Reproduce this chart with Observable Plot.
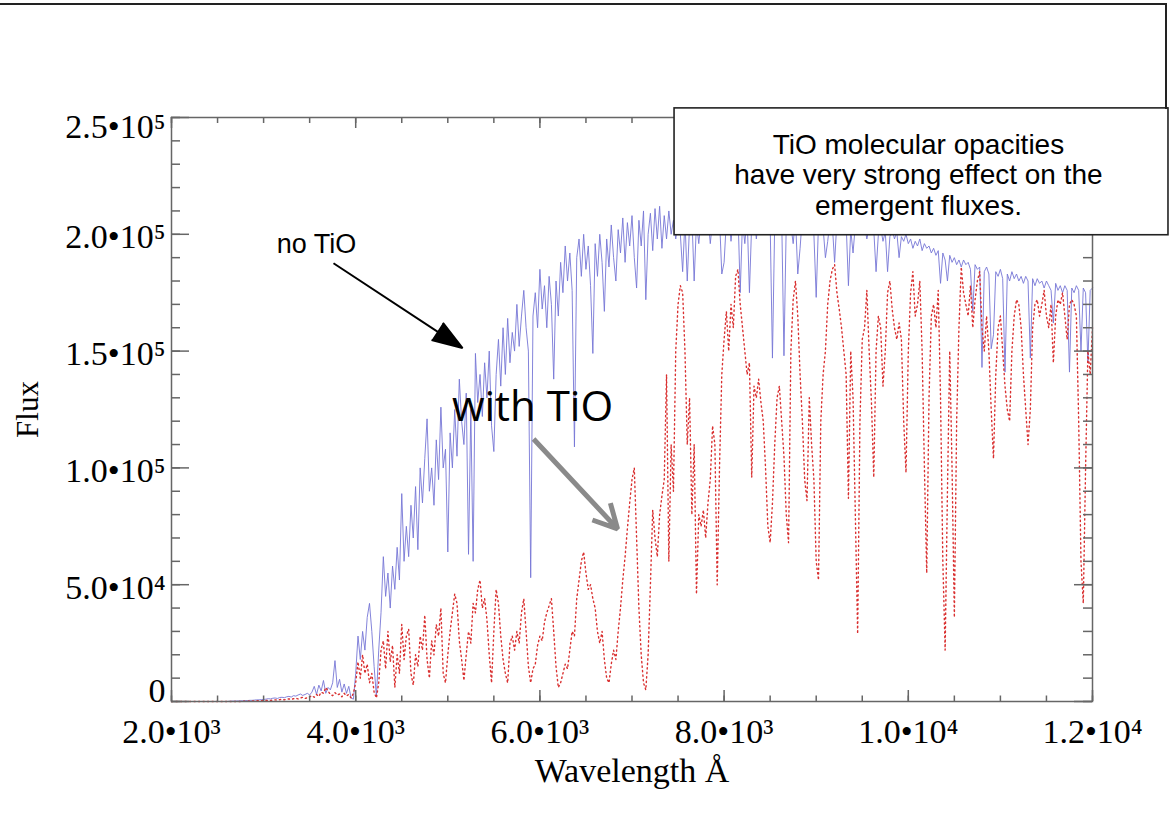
<!DOCTYPE html>
<html><head><meta charset="utf-8">
<script src="https://cdn.jsdelivr.net/npm/d3@7"></script>
<script src="https://cdn.jsdelivr.net/npm/@observablehq/plot@0.6"></script>
<style>
html,body{margin:0;padding:0;background:#fff;}
#wrap{position:relative;width:1173px;height:816px;overflow:hidden;background:#fff;}
#border{position:absolute;left:0;top:3px;width:1165px;height:104px;border-top:2px solid #222;border-right:2px solid #222;pointer-events:none;}
</style></head>
<body><div id="wrap"><div id="chart"></div><div id="border"></div></div>
<script>
// Spectral grid (Å)
const wavelengthStart = 2000, wavelengthStep = 25;

// Emergent flux, model without TiO opacities (blue solid)
const fluxNoTiO = [
0,0,0,0,0,0,0,0,0,0,0,0,0,0,0,0,0,0,0,0,0,0,0,0,0,
100,150,200,200,250,300,300,400,
400,500,500,600,700,700,800,900,
1000,1200,1100,1400,1500,1300,1700,1800,1600,2000,2200,1900,
2500,2300,2800,3200,2600,3000,3500,2800,
4000,6500,3000,7000,4500,9000,3500,6000,5000,8000,17500,6000,9500,4000,7500,3500,6500,1500,1000,
12000,28000,18000,30000,22000,36000,42000,30000,15000,2000,22000,38000,62000,45000,55000,40000,58000,48000,66000,52000,
89000,60000,75000,62000,84000,70000,92000,65000,100000,85000,104000,121000,90000,100000,84000,112000,95000,126000,100000,108000,
64000,115000,100000,125000,105000,138000,120000,110000,132000,63000,125000,60000,149000,128000,140000,122000,145000,130000,150000,118000,
107000,140000,155000,135000,160000,140000,164000,145000,158000,150000,170000,152000,165000,176000,160000,150000,53000,165000,175000,160000,
185000,168000,178000,160000,182000,170000,138000,180000,165000,188000,175000,195000,180000,192000,176000,109000,190000,198000,182000,200000,
185000,195000,178000,149000,196000,182000,200000,188000,167000,198000,186000,204000,190000,180000,202000,192000,207000,188000,205000,195000,
208000,190000,177000,206000,195000,210000,172000,200000,209000,193000,211000,198000,212000,194000,208000,198000,210000,200000,206000,198000,
205000,200000,184000,206000,180000,204000,208000,180000,205000,196000,207000,210000,204000,208000,196000,206000,210000,200000,207000,183000,
188000,206000,209000,197000,207000,205000,210000,175000,206000,196000,208000,175000,205000,209000,198000,207000,204000,210000,200000,207000,
205000,147000,206000,209000,203000,208000,148000,205000,209000,204000,196000,207000,183000,194000,208000,205000,209000,204000,207000,200000,
173000,205000,208000,203000,190000,197000,206000,204000,188000,206000,202000,207000,200000,205000,178000,202000,192000,204000,200000,205000,
201000,204000,198000,203000,200000,202000,184000,200000,203000,197000,201000,184000,199000,202000,198000,201000,190000,199000,197000,200000,
196000,198000,194000,197000,195000,198000,193000,196000,194000,195000,192000,194000,191000,193000,179000,192000,189000,180000,191000,188000,
190000,187000,189000,186000,189000,187000,188000,185000,167000,187000,185000,186000,143000,184000,186000,183000,151000,157000,184000,182000,
185000,181000,141000,183000,180000,184000,181000,183000,180000,182000,179000,182000,180000,147000,181000,178000,181000,179000,180000,177000,
180000,178000,176000,162000,179000,176000,178000,175000,178000,176000,141000,177000,175000,178000,176000,150000,177000,175000,145000,176000,177000
];

// Emergent flux, model with TiO opacities (red dotted)
const fluxWithTiO = [
0,0,0,0,0,0,0,0,0,0,0,0,0,0,0,0,0,0,0,0,0,0,0,0,0,0,0,0,0,0,0,
100,100,150,200,200,250,300,300,350,400,
400,500,450,600,700,600,800,900,700,1000,1100,900,1200,1400,1100,1500,1800,1300,1600,2000,
2500,1800,3000,2200,4000,3500,6000,4500,3000,2500,3800,2800,3200,2000,3500,2400,3000,1500,3500,
8000,17000,10000,20000,12000,16000,8000,12000,4000,1500,8000,22000,26000,14000,30000,17000,24000,6000,20000,12000,
33000,18000,28000,31000,12000,7000,20000,15000,28000,22000,37000,18000,10000,26000,20000,33000,28000,40000,12000,8000,
20000,30000,38000,46000,42000,26000,18000,9000,20000,30000,25000,42000,38000,48000,52000,40000,44000,35000,20000,8000,
30000,48000,42000,28000,18000,12000,8000,25000,28000,22000,30000,25000,38000,44000,30000,15000,8000,14000,16000,24000,
28000,26000,34000,38000,41000,44000,30000,15000,6000,8000,12000,16000,14000,22000,30000,28000,44000,52000,60000,64000,
55000,48000,50000,44000,40000,30000,25000,30000,18000,10000,8000,16000,22000,18000,30000,40000,52000,62000,74000,85000,
95000,100000,70000,40000,20000,8000,5000,20000,50000,82000,70000,62000,80000,88000,95000,140000,60000,110000,90000,150000,
170000,178000,175000,150000,110000,130000,80000,110000,46000,80000,75000,82000,70000,85000,95000,118000,110000,50000,100000,140000,
155000,167000,150000,170000,160000,182000,185000,170000,160000,150000,140000,145000,96000,135000,130000,138000,128000,120000,100000,75000,
68000,85000,110000,130000,135000,120000,105000,80000,68000,150000,172000,180000,165000,140000,120000,95000,86000,130000,110000,95000,
60000,52000,120000,140000,150000,170000,180000,185000,187000,175000,168000,160000,150000,140000,87000,150000,130000,80000,29000,120000,
155000,160000,176000,150000,128000,96000,150000,165000,160000,135000,150000,175000,180000,168000,160000,155000,162000,155000,120000,98000,
150000,175000,184000,165000,170000,180000,150000,100000,55000,130000,165000,170000,160000,176000,130000,60000,22000,90000,150000,100000,
36000,120000,160000,186000,175000,170000,165000,178000,160000,172000,180000,184000,160000,150000,165000,150000,125000,104000,140000,160000,
165000,150000,135000,125000,120000,150000,165000,172000,170000,160000,140000,125000,110000,125000,160000,170000,172000,165000,170000,176000,
165000,160000,170000,145000,165000,172000,170000,175000,165000,155000,170000,172000,170000,165000,120000,60000,42000,100000,150000,140000,160000
];

// Axis ticks and labels
const xMajorTicks = [2000, 4000, 6000, 8000, 10000, 12000];
const xTickLabels = ["2.0•10³", "4.0•10³", "6.0•10³", "8.0•10³", "1.0•10⁴", "1.2•10⁴"];
const xMinorTicks = d3.range(2000, 12001, 500);
const yMajorTicks = [0, 50000, 100000, 150000, 200000, 250000];
const yTickLabels = ["0", "5.0•10⁴", "1.0•10⁵", "1.5•10⁵", "2.0•10⁵", "2.5•10⁵"];
const yMinorTicks = d3.range(0, 250001, 10000);

// Annotations (data units)
const noteNoTiO = [{label: "no TiO", wavelength: 3574, flux: 195750}];
const noteWithTiO = [{label: "with TiO", wavelength: 5920, flux: 125650}];
const arrowNoTiO = [{x1: 3759, y1: 187600, x2: 5160, y2: 151300}];
const arrowWithTiO = [{x1: 5931, y1: 112400, x2: 6843, y2: 73900}];
const boxNote = [{x1: 7462, x2: 12825, y1: 199600, y2: 253900,
  label: "TiO molecular opacities\nhave very strong effect on the\nemergent fluxes.", wavelength: 10110, flux: 225600}];

const noTiO = fluxNoTiO.map((f, i) => ({wavelength: wavelengthStart + i * wavelengthStep, flux: f}));
const withTiO = fluxWithTiO.map((f, i) => ({wavelength: wavelengthStart + i * wavelengthStep, flux: f}));

const W = 1173, H = 816, mL = 171, mR = 81, mT = 117, mB = 115;
const fw = W - mL - mR, fh = H - mT - mB;
const axisColor = "#666";
const serif = "'Liberation Serif', 'Times New Roman', serif";
const sans = "'Liberation Sans', Arial, sans-serif";

const yLab = yMajorTicks.map((v, i) => ({v, label: yTickLabels[i]}));

const plot = Plot.plot({
  width: W, height: H,
  marginLeft: mL, marginRight: mR, marginTop: mT, marginBottom: mB,
  style: {fontFamily: serif, fontSize: "34px", background: "white", color: "black", overflow: "visible"},
  x: {domain: [2000, 12000], axis: null},
  y: {domain: [0, 250000], axis: null},
  marks: [
    Plot.line(noTiO, {x: "wavelength", y: "flux", stroke: "#7676d6", strokeWidth: 0.9}),
    Plot.line(withTiO, {x: "wavelength", y: "flux", stroke: "#d93030", strokeWidth: 1.4, strokeDasharray: "1.3,3.2"}),
    Plot.frame({stroke: axisColor, strokeWidth: 1.5}),
    // bottom and top ticks (inward)
    Plot.tickX(xMinorTicks, {x: d => d, insetTop: fh - 5.5, stroke: axisColor, strokeWidth: 1.5}),
    Plot.tickX(xMinorTicks, {x: d => d, insetBottom: fh - 6, stroke: axisColor, strokeWidth: 1.5}),
    Plot.tickX(xMajorTicks, {x: d => d, insetTop: fh - 11, stroke: axisColor, strokeWidth: 1.5}),
    Plot.tickX(xMajorTicks, {x: d => d, insetBottom: fh - 11, stroke: axisColor, strokeWidth: 1.5}),
    // left and right ticks (inward)
    Plot.tickY(yMinorTicks, {y: d => d, insetRight: fw - 9, stroke: axisColor, strokeWidth: 1.5}),
    Plot.tickY(yMinorTicks, {y: d => d, insetLeft: fw - 9, stroke: axisColor, strokeWidth: 1.5}),
    Plot.tickY(yMajorTicks, {y: d => d, insetRight: fw - 18, stroke: axisColor, strokeWidth: 1.5}),
    Plot.tickY(yMajorTicks, {y: d => d, insetLeft: fw - 18, stroke: axisColor, strokeWidth: 1.5}),
    // tick labels
    Plot.text(xMajorTicks, {x: d => d, frameAnchor: "bottom", dy: 30.5, lineAnchor: "middle", text: (d, i) => xTickLabels[i], fontSize: 34}),
    Plot.text(yLab.filter(d => d.v > 0 && d.v < 250000), {y: "v", text: "label", frameAnchor: "left", dx: -6, dy: 3, textAnchor: "end", lineAnchor: "middle", fontSize: 34}),
    Plot.text(yLab.filter(d => d.v === 250000), {y: "v", text: "label", frameAnchor: "left", dx: -6, dy: 10, textAnchor: "end", lineAnchor: "middle", fontSize: 34}),
    Plot.text(yLab.filter(d => d.v === 0), {y: "v", text: "label", frameAnchor: "left", dx: -6, dy: -10, textAnchor: "end", lineAnchor: "middle", fontSize: 34}),
    // axis titles
    Plot.text(["Wavelength Å"], {frameAnchor: "bottom", dy: 69.5, lineAnchor: "middle", fontSize: 34}),
    Plot.text(["Flux"], {frameAnchor: "left", dx: -143, rotate: -90, textAnchor: "middle", lineAnchor: "middle", fontSize: 31}),
    // annotations
    Plot.arrow(arrowNoTiO, {x1: "x1", y1: "y1", x2: "x2", y2: "y2", stroke: "black", fill: "black", strokeWidth: 2, headLength: 24, headAngle: 38, strokeLinecap: "butt"}),
    Plot.arrow(arrowWithTiO, {x1: "x1", y1: "y1", x2: "x2", y2: "y2", stroke: "#8a8a8a", strokeWidth: 5, headLength: 8, headAngle: 55, strokeLinecap: "butt"}),
    Plot.text(noteNoTiO, {x: "wavelength", y: "flux", text: "label", fontFamily: sans, fontSize: 27, lineAnchor: "middle"}),
    Plot.text(noteWithTiO, {x: "wavelength", y: "flux", text: "label", fontFamily: "'Open Sans', 'Noto Sans', sans-serif", fontSize: 42, lineAnchor: "middle"}),
    Plot.rect(boxNote, {x1: "x1", x2: "x2", y1: "y1", y2: "y2", fill: "white", stroke: "#222", strokeWidth: 1.6}),
    Plot.text(boxNote, {x: "wavelength", y: "flux", text: "label", fontFamily: sans, fontSize: 28, lineHeight: 1.1, lineAnchor: "middle"})
  ]
});
document.getElementById("chart").appendChild(plot);
</script>
</body></html>
